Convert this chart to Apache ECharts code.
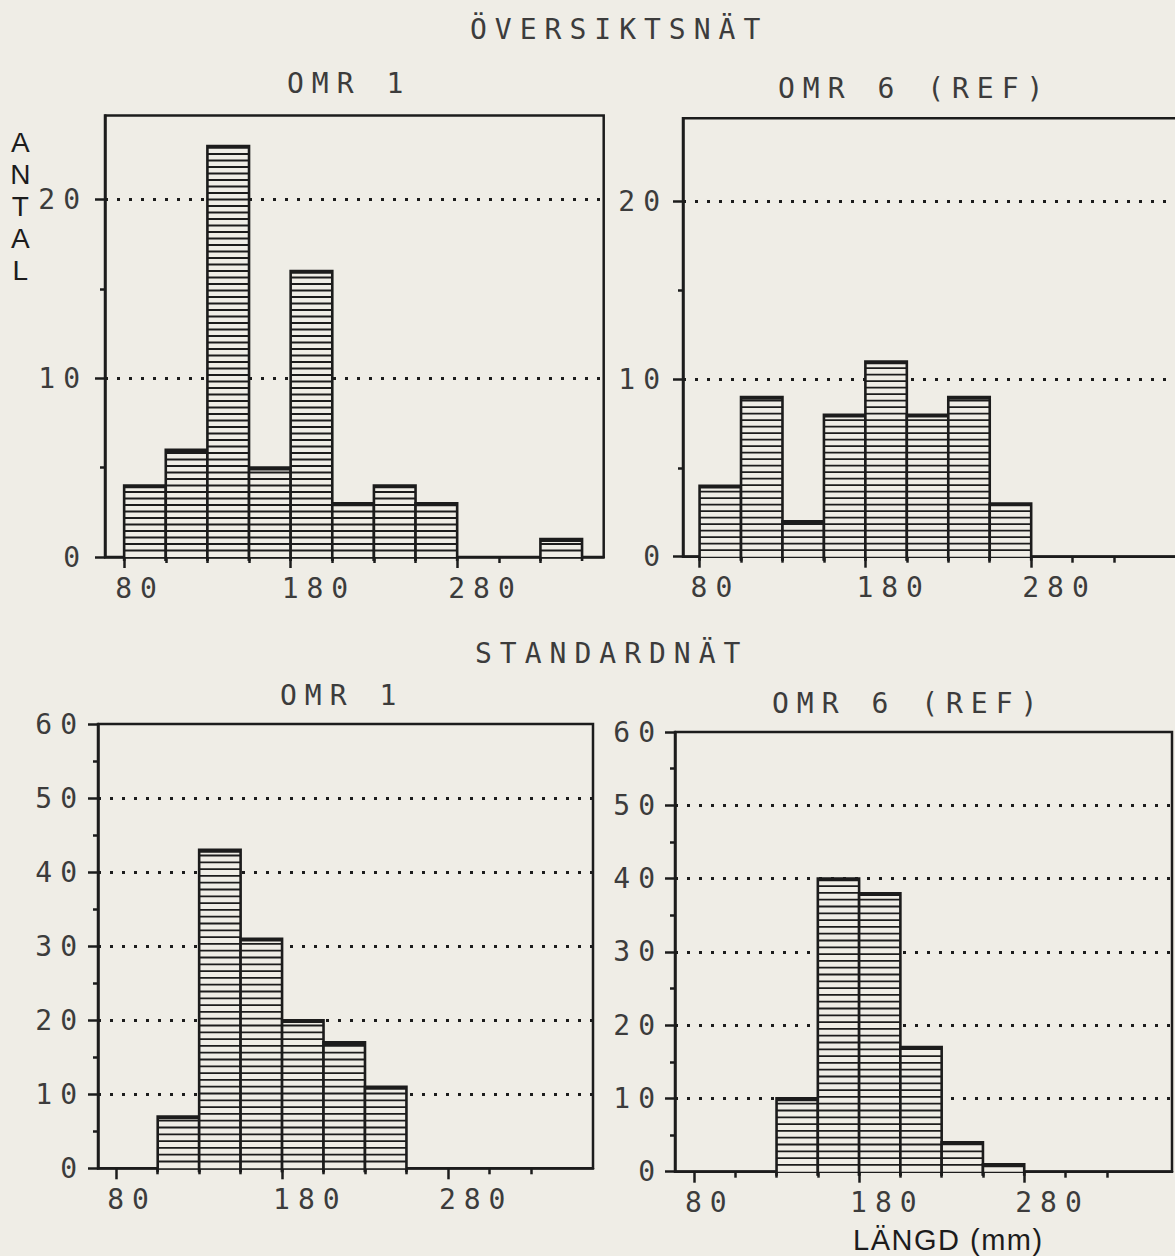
<!DOCTYPE html>
<html>
<head>
<meta charset="utf-8">
<style>
html,body{margin:0;padding:0;background:#efede6;}
#chart{width:1175px;height:1256px;}
#chart text{letter-spacing:8px;}
#chart text[style*="Liberation Sans"]{letter-spacing:1.5px;}
</style>
<script src="https://cdn.jsdelivr.net/npm/echarts@6/dist/echarts.min.js"></script>
</head>
<body>
<div id="chart"></div>
<script>
// ---------- data ----------
const binStarts = [80, 105, 130, 155, 180, 205, 230, 255, 280, 305, 330];
const BIN_WIDTH = 25;
const oversiktOmr1 = [4, 6, 23, 5, 16, 3, 4, 3, 0, 0, 1];
const oversiktOmr6 = [4, 9, 2, 8, 11, 8, 9, 3, 0, 0, 0];
const standardOmr1 = [0, 7, 43, 31, 20, 17, 11, 0, 0, 0, 0];
const standardOmr6 = [0, 0, 10, 40, 38, 17, 4, 1, 0, 0, 0];
const xTickLabels = [80, 180, 280];
const xMinorTicks = [105, 130, 155, 205, 230, 255, 305, 330];
const yTopLabels = [0, 10, 20];
const yTopMinor = [5, 15];
const yTopGrid = [10, 20];
const yBottomLabels = [0, 10, 20, 30, 40, 50, 60];
const yBottomMinor = [5, 15, 25, 35, 45, 55];
const yBottomGrid = [10, 20, 30, 40, 50];
const titleTop = 'ÖVERSIKTSNÄT';
const titleBottom = 'STANDARDNÄT';
const panelOmr1 = 'OMR 1';
const panelOmr6 = 'OMR 6 (REF)';
const yName = 'A\nN\nT\nA\nL';
const xName = 'LÄNGD (mm)';

// ---------- style ----------
const PAPER = '#efede6';
const INK = '#1c1c1c';
const TXT = '#3c3c3c';
const MONO = '"DejaVu Sans Mono", monospace';
const SANS = '"Liberation Sans", Arial, sans-serif';

const panels = [
  {data: oversiktOmr1, grid: {left: 105, top: 115.6, width: 498.7, height: 441.4}, xMin: 68.5, xMax: 368, yMax: 24.7,
   yLabels: yTopLabels, yMinor: yTopMinor, yGrid: yTopGrid, yMargin: 17, gap: 6.5},
  {data: oversiktOmr6, grid: {left: 683, top: 118.3, width: 497.4, height: 438.4}, xMin: 70, xMax: 370, yMax: 24.7,
   yLabels: yTopLabels, yMinor: yTopMinor, yGrid: yTopGrid, yMargin: 15, gap: 6.5},
  {data: standardOmr1, grid: {left: 98, top: 724, width: 495, height: 444.3}, xMin: 69, xMax: 367.5, yMax: 60,
   yLabels: yBottomLabels, yMinor: yBottomMinor, yGrid: yBottomGrid, yMargin: 13, gap: 6.8},
  {data: standardOmr6, grid: {left: 675, top: 732, width: 497, height: 439.7}, xMin: 68.5, xMax: 369.5, yMax: 60,
   yLabels: yBottomLabels, yMinor: yBottomMinor, yGrid: yBottomGrid, yMargin: 12, gap: 6.8}
];

function makeRender(gap) {
  return function (params, api) {
    const s = api.value(0), v = api.value(1);
    if (!v) return null;
    const pL = api.coord([s, 0]);
    const pR = api.coord([s + BIN_WIDTH, v]);
    const x0 = pL[0], x1 = pR[0], yb = pL[1], yt = pR[1];
    const children = [{
      type: 'rect', shape: {x: x0, y: yt, width: x1 - x0, height: yb - yt},
      style: {fill: PAPER, stroke: null}
    }];
    for (let y = yb - gap; y > yt + 2.5; y -= gap) {
      children.push({type: 'line', shape: {x1: x0, y1: y, x2: x1, y2: y},
        style: {stroke: INK, lineWidth: 1.8}});
    }
    children.push({type: 'polyline', shape: {points: [[x0, yb + 4], [x0, yt], [x1, yt], [x1, yb + 4]]},
      style: {stroke: INK, lineWidth: 2.6, fill: null}});
    children.push({type: 'line', shape: {x1: x0, y1: yt + 1.2, x2: x1, y2: yt + 1.2},
      style: {stroke: INK, lineWidth: 3.2}});
    return {type: 'group', children: children};
  };
}

const grids = [], xAxes = [], yAxes = [], series = [];
panels.forEach(function (p, i) {
  grids.push(Object.assign({show: true, borderColor: INK, borderWidth: 2.5, backgroundColor: 'transparent',
    containLabel: false, outerBoundsMode: 'none'}, p.grid));
  // major x axis
  xAxes.push({type: 'value', gridIndex: i, position: 'bottom', min: p.xMin, max: p.xMax,
    axisLine: {show: true, onZero: false, lineStyle: {color: INK, width: 2.5}},
    axisTick: {show: true, customValues: xTickLabels, length: 11, lineStyle: {color: INK, width: 2.5}},
    axisLabel: {show: true, customValues: xTickLabels, align: 'left', padding: [0, 0, 0, -9], margin: 17,
      fontFamily: MONO, fontSize: 28, color: TXT},
    splitLine: {show: false}});
  // major y axis
  yAxes.push({type: 'value', gridIndex: i, position: 'left', min: 0, max: p.yMax,
    axisLine: {show: true, onZero: false, lineStyle: {color: INK, width: 2.5}},
    axisTick: {show: true, customValues: p.yLabels, length: 10, lineStyle: {color: INK, width: 2.5}},
    axisLabel: {show: true, customValues: p.yLabels, margin: p.yMargin,
      fontFamily: MONO, fontSize: 28, color: TXT},
    splitLine: {show: false}});
});
panels.forEach(function (p, i) {
  // minor x ticks
  xAxes.push({type: 'value', gridIndex: i, position: 'bottom', offset: 0, min: p.xMin, max: p.xMax,
    axisLine: {show: false, onZero: false},
    axisTick: {show: true, customValues: xMinorTicks, length: 6, lineStyle: {color: INK, width: 2.5}},
    axisLabel: {show: false}, splitLine: {show: false}});
  // minor y ticks
  yAxes.push({type: 'value', gridIndex: i, position: 'left', offset: 0, min: 0, max: p.yMax,
    axisLine: {show: false, onZero: false},
    axisTick: {show: true, customValues: p.yMinor, length: 5, lineStyle: {color: INK, width: 2.5}},
    axisLabel: {show: false}, splitLine: {show: false}});
});
panels.forEach(function (p, i) {
  series.push({
    type: 'custom', xAxisIndex: i, yAxisIndex: i, z: 3, clip: false,
    renderItem: makeRender(p.gap),
    encode: {x: 0, y: 1},
    data: binStarts.map(function (s, k) { return [s, p.data[k]]; }),
    markLine: {
      z: 1, silent: true, symbol: 'none', animation: false,
      label: {show: false},
      lineStyle: {color: INK, width: 3, type: [3, 9], cap: 'butt'},
      data: p.yGrid.map(function (v) { return {yAxis: v}; })
    }
  });
});

const texts = [
  {text: titleTop, x: 470, y: 29, font: MONO},
  {text: panelOmr1, x: 287, y: 83, font: MONO},
  {text: panelOmr6, x: 778, y: 88, font: MONO},
  {text: titleBottom, x: 475, y: 653, font: MONO},
  {text: panelOmr1, x: 280, y: 695, font: MONO},
  {text: panelOmr6, x: 772, y: 703, font: MONO}
];
const graphic = texts.map(function (t) {
  return {type: 'text', x: t.x, y: t.y, silent: true,
    style: {text: t.text, fill: TXT, fontFamily: t.font, fontSize: 28,
      textAlign: 'left', textVerticalAlign: 'middle'}};
});
graphic.push({type: 'text', x: 21, y: 206, silent: true,
  style: {text: yName, fill: INK, fontFamily: SANS, fontSize: 28, lineHeight: 32,
    textAlign: 'center', textVerticalAlign: 'middle'}});
graphic.push({type: 'text', x: 853, y: 1240, silent: true,
  style: {text: xName, fill: INK, fontFamily: SANS, fontSize: 29,
    textAlign: 'left', textVerticalAlign: 'middle'}});

const chart = echarts.init(document.getElementById('chart'), null, {renderer: 'svg', width: 1175, height: 1256});
chart.setOption({
  backgroundColor: PAPER,
  animation: false,
  grid: grids,
  xAxis: xAxes,
  yAxis: yAxes,
  series: series,
  graphic: graphic
});
</script>
</body>
</html>
